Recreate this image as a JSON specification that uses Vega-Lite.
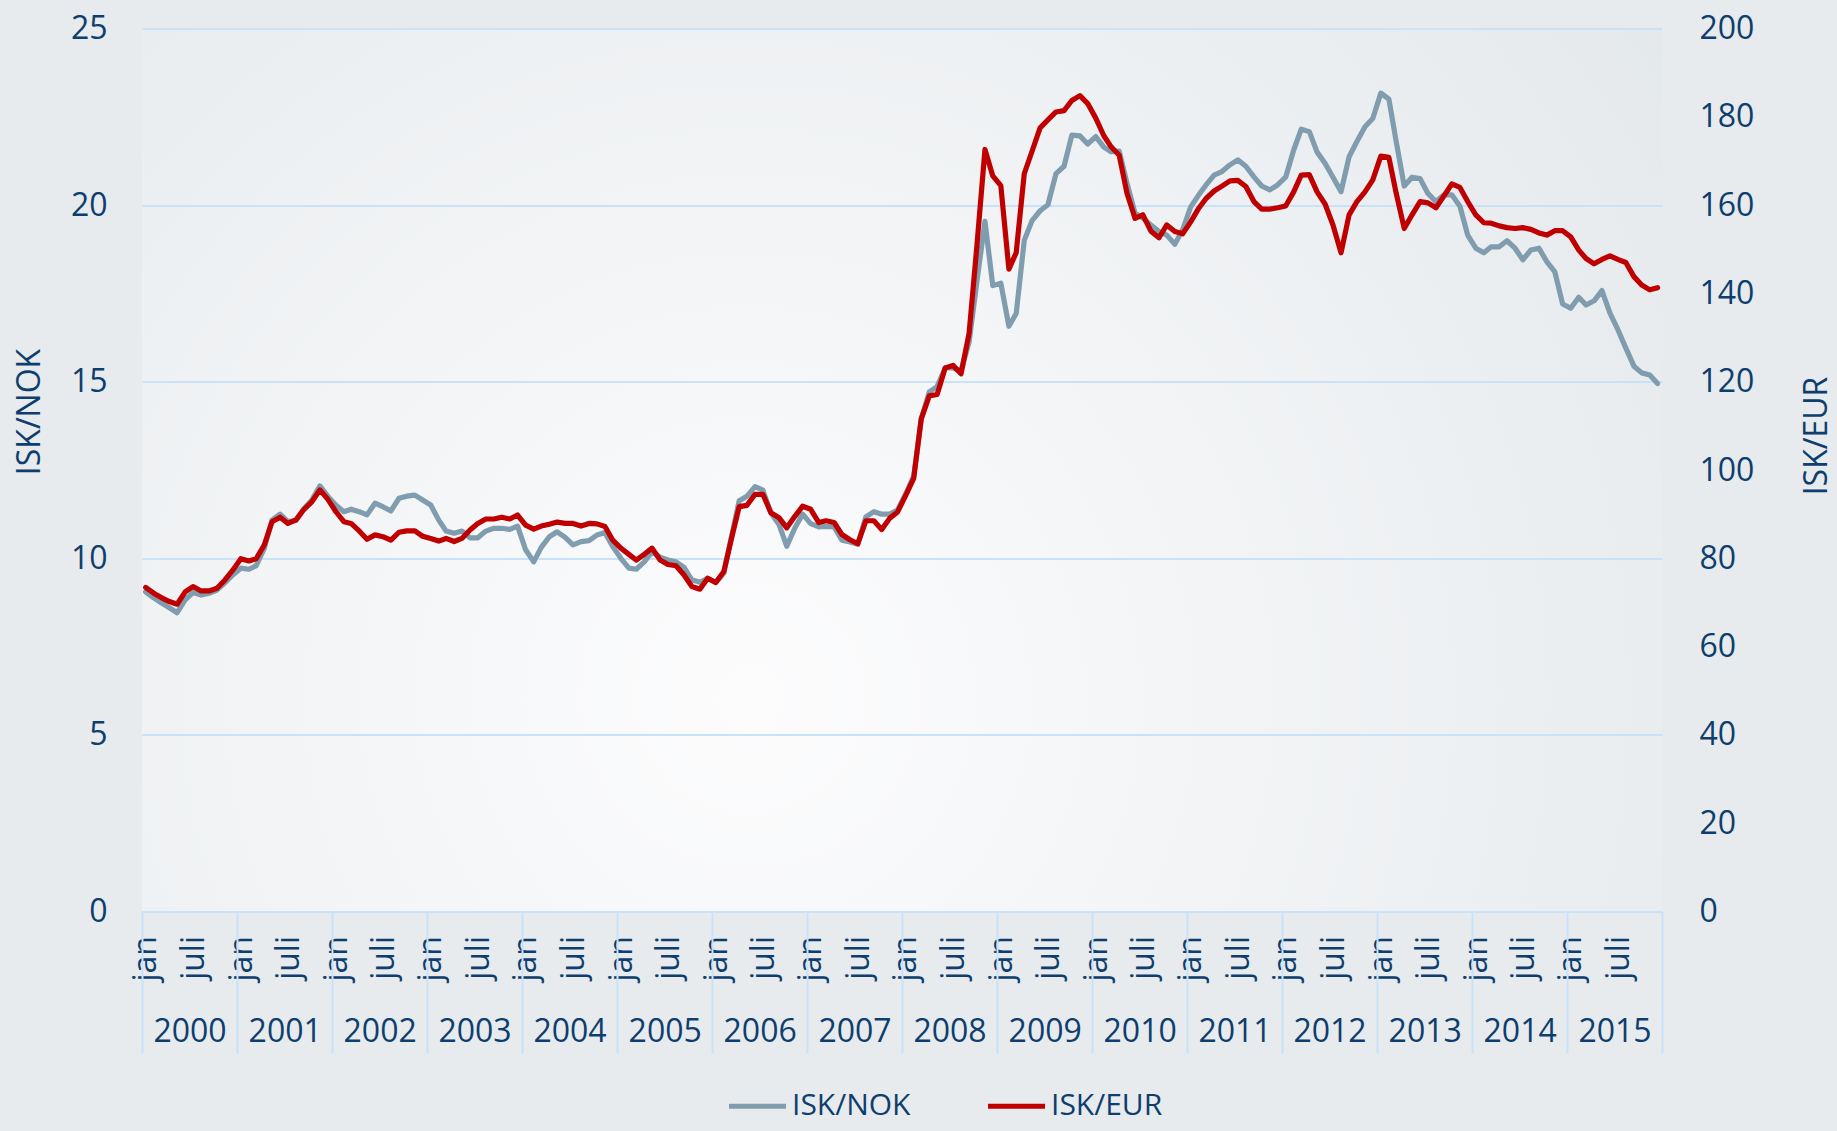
{
"$schema": "https://vega.github.io/schema/vega-lite/v6.json",
"width": 1520,
"height": 883,
"autosize": {"type": "none"},
"padding": {"left": 142, "top": 28.5, "right": 175, "bottom": 219.5},
"background": "#E7EBEE",
"config": {
  "font": "Open Sans",
  "view": {"stroke": null, "fill": {"gradient": "radial", "x1": 0.4, "y1": 0.65, "r1": 0, "x2": 0.4, "y2": 0.65, "r2": 0.85, "stops": [{"offset": 0, "color": "#FCFCFD"}, {"offset": 1, "color": "#E1E6E9"}]}},
  "axis": {"labelColor": "#0E3E6D", "titleColor": "#0E3E6D", "labelFont": "Open Sans", "titleFont": "Open Sans"}
},
"data": {"values": [
{"d":"2000-01-15","nok":9.05,"eur":73.4},{"d":"2000-02-15","nok":8.88,"eur":72.1},{"d":"2000-03-15","nok":8.74,"eur":71.1},{"d":"2000-04-15","nok":8.60,"eur":70.2},{"d":"2000-05-15","nok":8.46,"eur":69.6},{"d":"2000-06-15","nok":8.82,"eur":72.4},{"d":"2000-07-15","nok":9.03,"eur":73.6},{"d":"2000-08-15","nok":8.96,"eur":72.6},{"d":"2000-09-15","nok":9.01,"eur":72.6},{"d":"2000-10-15","nok":9.10,"eur":73.2},{"d":"2000-11-15","nok":9.31,"eur":75.1},{"d":"2000-12-15","nok":9.53,"eur":77.3},
{"d":"2001-01-15","nok":9.72,"eur":79.9},{"d":"2001-02-15","nok":9.69,"eur":79.4},{"d":"2001-03-15","nok":9.79,"eur":79.9},{"d":"2001-04-15","nok":10.28,"eur":83.0},{"d":"2001-05-15","nok":11.08,"eur":88.3},{"d":"2001-06-15","nok":11.25,"eur":89.3},{"d":"2001-07-15","nok":11.04,"eur":87.9},{"d":"2001-08-15","nok":11.07,"eur":88.7},{"d":"2001-09-15","nok":11.41,"eur":91.1},{"d":"2001-10-15","nok":11.65,"eur":92.8},{"d":"2001-11-15","nok":12.05,"eur":95.5},{"d":"2001-12-15","nok":11.76,"eur":93.4},
{"d":"2002-01-15","nok":11.51,"eur":90.6},{"d":"2002-02-15","nok":11.32,"eur":88.3},{"d":"2002-03-15","nok":11.39,"eur":87.9},{"d":"2002-04-15","nok":11.32,"eur":86.2},{"d":"2002-05-15","nok":11.23,"eur":84.3},{"d":"2002-06-15","nok":11.56,"eur":85.3},{"d":"2002-07-15","nok":11.46,"eur":84.9},{"d":"2002-08-15","nok":11.34,"eur":84.1},{"d":"2002-09-15","nok":11.70,"eur":85.9},{"d":"2002-10-15","nok":11.76,"eur":86.2},{"d":"2002-11-15","nok":11.79,"eur":86.2},{"d":"2002-12-15","nok":11.65,"eur":85.0},
{"d":"2003-01-15","nok":11.51,"eur":84.5},{"d":"2003-02-15","nok":11.08,"eur":83.9},{"d":"2003-03-15","nok":10.77,"eur":84.5},{"d":"2003-04-15","nok":10.71,"eur":83.8},{"d":"2003-05-15","nok":10.77,"eur":84.5},{"d":"2003-06-15","nok":10.58,"eur":86.4},{"d":"2003-07-15","nok":10.58,"eur":87.9},{"d":"2003-08-15","nok":10.77,"eur":88.9},{"d":"2003-09-15","nok":10.85,"eur":88.9},{"d":"2003-10-15","nok":10.85,"eur":89.3},{"d":"2003-11-15","nok":10.82,"eur":88.9},{"d":"2003-12-15","nok":10.91,"eur":89.8},
{"d":"2004-01-15","nok":10.24,"eur":87.5},{"d":"2004-02-15","nok":9.90,"eur":86.6},{"d":"2004-03-15","nok":10.31,"eur":87.3},{"d":"2004-04-15","nok":10.61,"eur":87.7},{"d":"2004-05-15","nok":10.75,"eur":88.2},{"d":"2004-06-15","nok":10.59,"eur":87.9},{"d":"2004-07-15","nok":10.38,"eur":87.9},{"d":"2004-08-15","nok":10.47,"eur":87.3},{"d":"2004-09-15","nok":10.50,"eur":87.9},{"d":"2004-10-15","nok":10.66,"eur":87.8},{"d":"2004-11-15","nok":10.73,"eur":87.2},{"d":"2004-12-15","nok":10.33,"eur":84.1},
{"d":"2005-01-15","nok":10.00,"eur":82.3},{"d":"2005-02-15","nok":9.72,"eur":80.9},{"d":"2005-03-15","nok":9.69,"eur":79.6},{"d":"2005-04-15","nok":9.90,"eur":80.9},{"d":"2005-05-15","nok":10.19,"eur":82.3},{"d":"2005-06-15","nok":10.03,"eur":79.6},{"d":"2005-07-15","nok":9.95,"eur":78.6},{"d":"2005-08-15","nok":9.90,"eur":78.3},{"d":"2005-09-15","nok":9.74,"eur":76.2},{"d":"2005-10-15","nok":9.39,"eur":73.6},{"d":"2005-11-15","nok":9.32,"eur":73.0},{"d":"2005-12-15","nok":9.43,"eur":75.5},
{"d":"2006-01-15","nok":9.31,"eur":74.5},{"d":"2006-02-15","nok":9.58,"eur":77.0},{"d":"2006-03-15","nok":10.57,"eur":84.1},{"d":"2006-04-15","nok":11.63,"eur":91.7},{"d":"2006-05-15","nok":11.76,"eur":92.0},{"d":"2006-06-15","nok":12.03,"eur":94.5},{"d":"2006-07-15","nok":11.93,"eur":94.5},{"d":"2006-08-15","nok":11.28,"eur":90.3},{"d":"2006-09-15","nok":10.96,"eur":89.2},{"d":"2006-10-15","nok":10.34,"eur":86.9},{"d":"2006-11-15","nok":10.86,"eur":89.5},{"d":"2006-12-15","nok":11.25,"eur":91.8},
{"d":"2007-01-15","nok":10.98,"eur":91.1},{"d":"2007-02-15","nok":10.89,"eur":88.1},{"d":"2007-03-15","nok":10.90,"eur":88.5},{"d":"2007-04-15","nok":10.89,"eur":88.1},{"d":"2007-05-15","nok":10.51,"eur":85.4},{"d":"2007-06-15","nok":10.46,"eur":84.2},{"d":"2007-07-15","nok":10.40,"eur":83.3},{"d":"2007-08-15","nok":11.17,"eur":88.5},{"d":"2007-09-15","nok":11.32,"eur":88.5},{"d":"2007-10-15","nok":11.25,"eur":86.5},{"d":"2007-11-15","nok":11.25,"eur":89.1},{"d":"2007-12-15","nok":11.37,"eur":90.5},
{"d":"2008-01-15","nok":11.82,"eur":94.2},{"d":"2008-02-15","nok":12.33,"eur":98.1},{"d":"2008-03-15","nok":13.95,"eur":111.6},{"d":"2008-04-15","nok":14.71,"eur":116.8},{"d":"2008-05-15","nok":14.86,"eur":117.1},{"d":"2008-06-15","nok":15.39,"eur":123.1},{"d":"2008-07-15","nok":15.39,"eur":123.7},{"d":"2008-08-15","nok":15.31,"eur":121.8},{"d":"2008-09-15","nok":16.12,"eur":131.0},{"d":"2008-10-15","nok":17.84,"eur":150.8},{"d":"2008-11-15","nok":19.54,"eur":172.6},{"d":"2008-12-15","nok":17.72,"eur":166.6},
{"d":"2009-01-15","nok":17.79,"eur":164.4},{"d":"2009-02-15","nok":16.57,"eur":145.5},{"d":"2009-03-15","nok":16.93,"eur":149.2},{"d":"2009-04-15","nok":19.00,"eur":167.1},{"d":"2009-05-15","nok":19.56,"eur":172.2},{"d":"2009-06-15","nok":19.84,"eur":177.5},{"d":"2009-07-15","nok":20.01,"eur":179.3},{"d":"2009-08-15","nok":20.89,"eur":181.1},{"d":"2009-09-15","nok":21.10,"eur":181.4},{"d":"2009-10-15","nok":21.98,"eur":183.7},{"d":"2009-11-15","nok":21.96,"eur":184.8},{"d":"2009-12-15","nok":21.73,"eur":183.0},
{"d":"2010-01-15","nok":21.94,"eur":179.7},{"d":"2010-02-15","nok":21.64,"eur":175.7},{"d":"2010-03-15","nok":21.51,"eur":173.2},{"d":"2010-04-15","nok":21.53,"eur":171.3},{"d":"2010-05-15","nok":20.62,"eur":162.7},{"d":"2010-06-15","nok":19.77,"eur":157.0},{"d":"2010-07-15","nok":19.63,"eur":157.8},{"d":"2010-08-15","nok":19.44,"eur":154.1},{"d":"2010-09-15","nok":19.25,"eur":152.6},{"d":"2010-10-15","nok":19.15,"eur":155.5},{"d":"2010-11-15","nok":18.89,"eur":154.0},{"d":"2010-12-15","nok":19.30,"eur":153.5},
{"d":"2011-01-15","nok":19.95,"eur":156.2},{"d":"2011-02-15","nok":20.29,"eur":159.3},{"d":"2011-03-15","nok":20.57,"eur":161.5},{"d":"2011-04-15","nok":20.85,"eur":163.2},{"d":"2011-05-15","nok":20.95,"eur":164.3},{"d":"2011-06-15","nok":21.14,"eur":165.5},{"d":"2011-07-15","nok":21.28,"eur":165.6},{"d":"2011-08-15","nok":21.10,"eur":164.2},{"d":"2011-09-15","nok":20.80,"eur":160.8},{"d":"2011-10-15","nok":20.54,"eur":159.1},{"d":"2011-11-15","nok":20.43,"eur":159.1},{"d":"2011-12-15","nok":20.57,"eur":159.4},
{"d":"2012-01-15","nok":20.79,"eur":159.8},{"d":"2012-02-15","nok":21.56,"eur":163.0},{"d":"2012-03-15","nok":22.15,"eur":166.8},{"d":"2012-04-15","nok":22.08,"eur":166.9},{"d":"2012-05-15","nok":21.50,"eur":163.0},{"d":"2012-06-15","nok":21.18,"eur":160.2},{"d":"2012-07-15","nok":20.79,"eur":155.5},{"d":"2012-08-15","nok":20.38,"eur":149.2},{"d":"2012-09-15","nok":21.37,"eur":157.8},{"d":"2012-10-15","nok":21.80,"eur":160.8},{"d":"2012-11-15","nok":22.22,"eur":163.0},{"d":"2012-12-15","nok":22.45,"eur":165.7},
{"d":"2013-01-15","nok":23.17,"eur":171.1},{"d":"2013-02-15","nok":23.00,"eur":170.8},{"d":"2013-03-15","nok":21.80,"eur":162.7},{"d":"2013-04-15","nok":20.54,"eur":154.7},{"d":"2013-05-15","nok":20.79,"eur":157.8},{"d":"2013-06-15","nok":20.75,"eur":160.8},{"d":"2013-07-15","nok":20.33,"eur":160.5},{"d":"2013-08-15","nok":20.10,"eur":159.4},{"d":"2013-09-15","nok":20.29,"eur":162.1},{"d":"2013-10-15","nok":20.29,"eur":164.8},{"d":"2013-11-15","nok":19.97,"eur":164.0},{"d":"2013-12-15","nok":19.15,"eur":160.8},
{"d":"2014-01-15","nok":18.78,"eur":157.8},{"d":"2014-02-15","nok":18.65,"eur":156.0},{"d":"2014-03-15","nok":18.82,"eur":155.9},{"d":"2014-04-15","nok":18.82,"eur":155.3},{"d":"2014-05-15","nok":18.99,"eur":154.9},{"d":"2014-06-15","nok":18.78,"eur":154.7},{"d":"2014-07-15","nok":18.45,"eur":154.9},{"d":"2014-08-15","nok":18.73,"eur":154.5},{"d":"2014-09-15","nok":18.78,"eur":153.7},{"d":"2014-10-15","nok":18.40,"eur":153.2},{"d":"2014-11-15","nok":18.11,"eur":154.2},{"d":"2014-12-15","nok":17.20,"eur":154.2},
{"d":"2015-01-15","nok":17.08,"eur":152.8},{"d":"2015-02-15","nok":17.39,"eur":149.8},{"d":"2015-03-15","nok":17.17,"eur":147.9},{"d":"2015-04-15","nok":17.29,"eur":146.7},{"d":"2015-05-15","nok":17.58,"eur":147.7},{"d":"2015-06-15","nok":16.94,"eur":148.5},{"d":"2015-07-15","nok":16.48,"eur":147.7},{"d":"2015-08-15","nok":15.95,"eur":147.0},{"d":"2015-09-15","nok":15.44,"eur":143.8},{"d":"2015-10-15","nok":15.25,"eur":141.9},{"d":"2015-11-15","nok":15.19,"eur":140.8},{"d":"2015-12-15","nok":14.95,"eur":141.3}
]},
"layer": [
  {
    "mark": {"type": "line", "strokeWidth": 5.2, "strokeJoin": "round", "strokeCap": "round"},
    "encoding": {
      "x": {"field": "d", "type": "temporal",
        "scale": {"domain": [{"year": 2000, "month": 1, "date": 1}, {"year": 2016, "month": 1, "date": 1}]},
        "axis": {"orient": "bottom", "title": null, "grid": false, "ticks": false, "tickSize": 0,
          "domain": true, "domainColor": "#C8E2F9", "domainWidth": 2,
          "values": [{"year":2000,"month":1,"date":16},{"year":2000,"month":7,"date":16},{"year":2001,"month":1,"date":16},{"year":2001,"month":7,"date":16},{"year":2002,"month":1,"date":16},{"year":2002,"month":7,"date":16},{"year":2003,"month":1,"date":16},{"year":2003,"month":7,"date":16},{"year":2004,"month":1,"date":16},{"year":2004,"month":7,"date":16},{"year":2005,"month":1,"date":16},{"year":2005,"month":7,"date":16},{"year":2006,"month":1,"date":16},{"year":2006,"month":7,"date":16},{"year":2007,"month":1,"date":16},{"year":2007,"month":7,"date":16},{"year":2008,"month":1,"date":16},{"year":2008,"month":7,"date":16},{"year":2009,"month":1,"date":16},{"year":2009,"month":7,"date":16},{"year":2010,"month":1,"date":16},{"year":2010,"month":7,"date":16},{"year":2011,"month":1,"date":16},{"year":2011,"month":7,"date":16},{"year":2012,"month":1,"date":16},{"year":2012,"month":7,"date":16},{"year":2013,"month":1,"date":16},{"year":2013,"month":7,"date":16},{"year":2014,"month":1,"date":16},{"year":2014,"month":7,"date":16},{"year":2015,"month":1,"date":16},{"year":2015,"month":7,"date":16}],
          "labelExpr": "month(datum.value) == 0 ? 'jan' : 'juli'",
          "labelAngle": 270, "labelFontSize": 32, "labelPadding": 24, "labelOverlap": false, "labelFlush": false, "labelBound": false}},
      "y": {"field": "nok", "type": "quantitative",
        "scale": {"domain": [0, 25], "nice": false, "zero": true},
        "axis": {"orient": "left", "values": [0, 5, 10, 15, 20, 25], "grid": true, "gridColor": "#C8E2F9", "gridWidth": 2,
          "domain": false, "ticks": false, "labelFontSize": 32, "labelPadding": 35,
          "title": "ISK/NOK", "titleFontSize": 32, "titleFontWeight": "normal", "titleAngle": 270,
          "titleX": -113, "titleY": 383, "titleAlign": "center", "titleBaseline": "middle"}},
      "color": {"datum": "ISK/NOK", "type": "nominal",
        "scale": {"domain": ["ISK/NOK", "ISK/EUR"], "range": ["#7F9DAF", "#C00000"]},
        "legend": {"orient": "none", "legendX": 584, "legendY": 1046, "direction": "horizontal", "title": null,
          "symbolType": "stroke", "symbolSize": 3249, "symbolStrokeWidth": 5.2, "labelFontSize": 30,
          "labelColor": "#0E3E6D", "labelFont": "Open Sans", "columnPadding": 66, "labelOffset": 3, "labelLimit": 400}}
    }
  },
  {
    "mark": {"type": "line", "strokeWidth": 5.2, "strokeJoin": "round", "strokeCap": "round"},
    "encoding": {
      "x": {"field": "d", "type": "temporal",
        "axis": {"orient": "bottom", "title": null, "grid": false, "domain": false,
          "ticks": true, "tickSize": 142, "tickColor": "#C8E2F9", "tickWidth": 2,
          "values": [{"year":2000,"month":1,"date":1},{"year":2001,"month":1,"date":1},{"year":2002,"month":1,"date":1},{"year":2003,"month":1,"date":1},{"year":2004,"month":1,"date":1},{"year":2005,"month":1,"date":1},{"year":2006,"month":1,"date":1},{"year":2007,"month":1,"date":1},{"year":2008,"month":1,"date":1},{"year":2009,"month":1,"date":1},{"year":2010,"month":1,"date":1},{"year":2011,"month":1,"date":1},{"year":2012,"month":1,"date":1},{"year":2013,"month":1,"date":1},{"year":2014,"month":1,"date":1},{"year":2015,"month":1,"date":1},{"year":2016,"month":1,"date":1}],
          "labelExpr": "year(datum.value) < 2016 ? '' + year(datum.value) : ''",
          "labelAngle": 0, "labelAlign": "center", "labelBaseline": "top", "labelFontSize": 32,
          "labelOffset": 47.5, "labelPadding": -37.5, "labelOverlap": false, "labelFlush": false, "labelBound": false}},
      "y": {"field": "eur", "type": "quantitative",
        "scale": {"domain": [0, 200], "nice": false, "zero": true},
        "axis": {"orient": "right", "values": [0, 20, 40, 60, 80, 100, 120, 140, 160, 180, 200], "grid": false,
          "domain": false, "ticks": false, "labelFontSize": 32, "labelPadding": 37,
          "title": "ISK/EUR", "titleFontSize": 32, "titleFontWeight": "normal", "titleAngle": 270,
          "titleX": 154, "titleY": 407, "titleAlign": "center", "titleBaseline": "middle"}},
      "color": {"datum": "ISK/EUR", "type": "nominal"}
    }
  }
],
"resolve": {"scale": {"y": "independent", "x": "shared"}, "axis": {"x": "independent", "y": "independent"}}
}
